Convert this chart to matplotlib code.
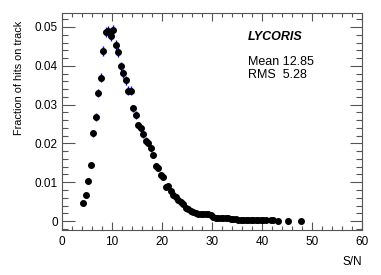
import numpy as np
import matplotlib
matplotlib.use("Agg")
import matplotlib.pyplot as plt
from matplotlib.ticker import MultipleLocator, FixedLocator, FixedFormatter

plt.rcParams['font.family'] = ['Liberation Sans', 'DejaVu Sans']

# bin centres (S/N) and fraction of hits per bin
sn = [4.25, 4.75, 5.25, 5.75, 6.25, 6.75, 7.25, 7.75, 8.25, 8.75,
      9.25, 9.75, 10.25, 10.75, 11.25, 11.75, 12.25, 12.75, 13.25, 13.75,
      14.25, 14.75, 15.25, 15.75, 16.25, 16.75, 17.25, 17.75, 18.25, 18.75,
      19.25, 19.75, 20.25, 20.75, 21.25, 21.75, 22.25, 22.75, 23.25, 23.75,
      24.25, 24.75, 25.25, 25.75, 26.25, 26.75, 27.25, 27.75, 28.25, 28.75,
      29.25, 29.75, 30.25, 30.75, 31.25, 31.75, 32.25, 32.75, 33.25, 33.75,
      34.25, 34.75, 35.25, 35.75, 36.25, 36.75, 37.25, 37.75, 38.25, 38.75,
      39.25, 39.75, 40.25, 40.75, 41.75, 42.25, 43.25, 45.25, 47.75]
frac = [0.0046, 0.0068, 0.0104, 0.0144, 0.0226, 0.0268, 0.0329, 0.0369, 0.0438, 0.0488,
        0.0490, 0.0476, 0.0493, 0.0454, 0.0436, 0.0399, 0.0381, 0.0363, 0.0336, 0.0336,
        0.0290, 0.0273, 0.0247, 0.0241, 0.0224, 0.0207, 0.0202, 0.0187, 0.0170, 0.0142,
        0.0137, 0.0118, 0.0113, 0.0089, 0.0091, 0.0077, 0.0068, 0.0063, 0.0055, 0.0048,
        0.0043, 0.0034, 0.0030, 0.0026, 0.0023, 0.0021, 0.0019, 0.0018, 0.0018, 0.0017,
        0.0017, 0.0015, 0.0010, 0.0009, 0.0009, 0.0008, 0.0007, 0.0007, 0.0009, 0.0006,
        0.0005, 0.0005, 0.0004, 0.0004, 0.0004, 0.0003, 0.0003, 0.0003, 0.0003, 0.0003,
        0.0003, 0.0003, 0.0003, 0.0002, 0.0002, 0.0002, 0.0001, 0.0001, 0.0001]
N_ENTRIES = 29000  # Poisson statistics for error bars

x_ticks = [0, 10, 20, 30, 40, 50, 60]
y_ticks = [0, 0.01, 0.02, 0.03, 0.04, 0.05]
y_tick_labels = ["0", "0.01", "0.02", "0.03", "0.04", "0.05"]

title_text = "LYCORIS"
stats_lines = ["Mean 12.85", "RMS  5.28"]

sn_a = np.array(sn)
frac_a = np.array(frac)
err = np.sqrt(frac_a / N_ENTRIES)

W, H = 381, 275
fig = plt.figure(figsize=(W / 100, H / 100), dpi=100)
ax = fig.add_axes([62 / W, 1 - 230 / H, 300 / W, 217 / H])

ax.errorbar(sn_a, frac_a, yerr=err, fmt='none', ecolor='#0000ff', elinewidth=1.0, capsize=0, zorder=2)
ax.plot(sn_a, frac_a, 'o', color='black', markersize=4.0, zorder=3)

ax.set_xlim(0, 60)
ax.set_ylim(-0.0023, 0.0536)

ax.xaxis.set_major_locator(FixedLocator(x_ticks))
ax.xaxis.set_minor_locator(MultipleLocator(2))
ax.yaxis.set_major_locator(FixedLocator(y_ticks))
ax.yaxis.set_major_formatter(FixedFormatter(y_tick_labels))
ax.yaxis.set_minor_locator(MultipleLocator(0.002))

ax.tick_params(axis='both', which='both', direction='in', top=True, right=True,
               colors='#555555', labelcolor='black', labelsize=8.5)
ax.tick_params(axis='x', which='major', length=6, width=0.8, pad=4)
ax.tick_params(axis='x', which='minor', length=3, width=0.8)
ax.tick_params(axis='y', which='major', length=9, width=0.8, pad=3)
ax.tick_params(axis='y', which='minor', length=4.5, width=0.8)
for s in ax.spines.values():
    s.set_color('#555555')
    s.set_linewidth(0.8)

fig.text(19 / W, 1 - 21 / H, "Fraction of hits on track", rotation=90,
         ha='center', va='top', fontsize=7.8)
fig.text(362 / W, 1 - 262 / H, "S/N", ha='right', va='center', fontsize=8.5)

fig.text(248 / W, 1 - 37 / H, title_text, ha='left', va='center', fontsize=9,
         fontweight='bold', fontstyle='italic')
fig.text(248 / W, 1 - 62 / H, stats_lines[0], ha='left', va='center', fontsize=9)
fig.text(248 / W, 1 - 75 / H, stats_lines[1], ha='left', va='center', fontsize=9)

fig.savefig("out.png", dpi=100)
